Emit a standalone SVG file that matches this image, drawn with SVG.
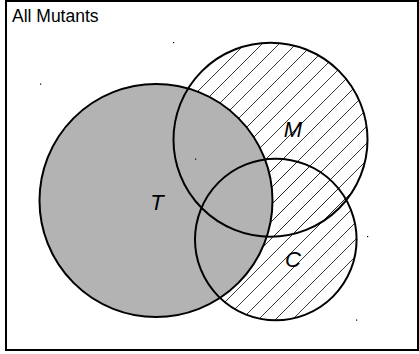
<svg xmlns="http://www.w3.org/2000/svg" width="419" height="354" viewBox="0 0 419 354">
<style>
.outline{fill:none;stroke:#000;stroke-width:2}
.lbl{font-family:"Liberation Sans",Arial,sans-serif;font-style:italic;font-size:22px;fill:#000;text-anchor:middle}
.title{font-family:"Liberation Sans",Arial,sans-serif;font-size:17.5px;fill:#000}
.dot{fill:#000}
</style>
<defs>
<pattern id="hatch" patternUnits="userSpaceOnUse" x="0" y="0" width="17" height="17">
<path d="M-4,21 L21,-4 M-4,4 L4,-4 M13,21 L21,13" stroke="#222" stroke-width="0.9" fill="none"/>
</pattern>
</defs>
<g id="universe">
<rect x="6" y="1" width="412" height="349" fill="#fff" stroke="#000" stroke-width="2"/>
<text class="title" x="12" y="22">All Mutants</text>
</g>
<g id="hatching">
<circle cx="270.5" cy="139.7" r="97" fill="url(#hatch)"/>
<circle cx="275.8" cy="239.5" r="80.8" fill="url(#hatch)"/>
</g>
<g id="T">
<circle cx="156" cy="200.5" r="116.5" fill="#b3b3b3"/>
<circle class="outline" cx="156" cy="200.5" r="116.5"/>
<text class="lbl" x="157" y="210">T</text>
</g>
<g id="M">
<circle class="outline" cx="270.5" cy="139.7" r="97"/>
<text class="lbl" x="293" y="137">M</text>
</g>
<g id="C">
<circle class="outline" cx="275.8" cy="239.5" r="80.8"/>
<text class="lbl" x="293" y="267">C</text>
</g>
<g id="connectors"/>
<g id="marks">
<rect class="dot" x="40" y="83.5" width="1.2" height="1.2"/>
<rect class="dot" x="173" y="42" width="1.2" height="1.2"/>
<rect class="dot" x="195" y="158.5" width="1.2" height="1.2"/>
<rect class="dot" x="367" y="236" width="1.2" height="1.2"/>
<rect class="dot" x="356" y="319.5" width="1.2" height="1.2"/>
</g>
</svg>
